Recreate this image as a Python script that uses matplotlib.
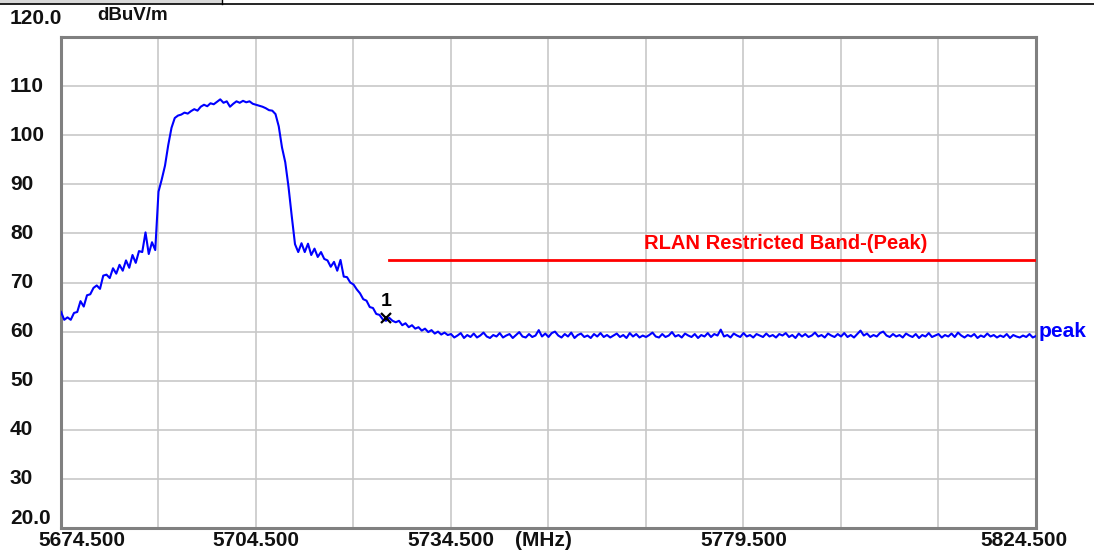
import numpy as np
import matplotlib
matplotlib.use("Agg")
import matplotlib.pyplot as plt
from matplotlib import transforms
from matplotlib.lines import Line2D
from matplotlib.patches import Rectangle

# ---------------- data ----------------
f_start = 5674.5
f_step = 0.5

level_rise = [64.0, 62.4, 62.9, 62.4, 63.8, 64.0, 66.2, 65.1, 67.4, 67.6,
              68.9, 69.4, 68.7, 71.4, 71.6, 70.9, 72.9, 71.8, 73.6, 72.4,
              74.5, 73.0, 75.6, 74.0, 76.4, 76.2, 80.2, 75.8, 78.2, 76.6]

level_band = [88.5, 91.0, 93.8, 98.0, 101.5, 103.5, 104.0, 104.2, 104.6, 104.4,
              104.9, 105.3, 105.0, 105.8, 106.2, 105.9, 106.5, 106.3, 106.8, 107.3,
              106.6, 106.9, 105.8, 106.4, 106.9, 106.6, 107.0, 106.7, 106.9, 106.4,
              106.2, 106.0, 105.8, 105.5, 105.1, 105.0, 104.3, 101.8, 97.5, 94.5,
              89.5, 83.5, 77.8, 76.2, 78.0, 76.2, 77.9, 75.6, 76.9, 75.2,
              76.2, 74.8, 74.5, 73.2, 74.2, 72.4, 74.6, 71.2, 71.1, 70.0,
              69.6, 68.6, 67.8, 66.6, 66.3, 65.0, 64.8, 63.6, 63.4, 62.5,
              62.2, 62.8, 62.2, 61.9, 62.2, 61.3, 61.7, 60.9, 61.3, 60.6,
              60.9, 60.2, 60.6, 59.9, 60.3, 59.6, 60.0, 59.4, 59.8, 59.3]

level_floor = [59.5, 58.8, 59.2, 59.7, 58.7, 59.3, 58.9, 59.6, 58.8, 59.2,
               59.8, 59.0, 58.7, 59.3, 59.0, 59.7, 58.8, 59.2, 59.5, 58.7,
               59.3, 59.9, 59.0, 58.8, 59.5, 58.9, 59.2, 60.3, 59.0, 59.6,
               58.9, 59.7, 60.0, 59.2, 58.8, 59.5, 59.0, 59.8, 58.7, 59.3,
               59.6, 58.9, 59.2, 58.7, 59.5, 59.0, 59.7, 58.9, 59.3, 58.8,
               59.2, 59.6, 58.9, 59.3, 58.7, 59.7, 59.0, 59.5, 58.8, 59.2,
               58.9, 59.3, 59.8, 59.0, 58.8, 59.5, 58.9, 59.2, 59.9, 59.0,
               59.3, 58.8, 59.6, 59.2, 58.9, 59.5, 58.7, 59.3, 59.0, 59.7,
               58.9, 59.5, 59.2, 60.4, 59.0, 59.3, 58.8, 59.6, 59.2, 58.9,
               59.7, 59.0, 59.3, 58.8, 59.5, 59.2, 58.9, 59.6, 59.0, 59.3,
               58.8, 59.5, 59.2, 59.7, 58.9, 59.3, 58.7, 59.6, 59.0, 59.5,
               58.9, 59.2, 59.8, 59.0, 59.3, 58.8, 59.6, 59.2, 58.9, 59.5,
               59.0, 59.7, 58.9, 59.3, 58.8, 59.5, 60.2, 59.2, 59.6, 58.9,
               59.3, 59.0, 59.7, 60.0, 59.2, 58.9, 59.5, 59.0, 59.3, 58.8,
               59.6, 59.2, 58.9, 59.5, 58.7, 59.3, 59.0, 59.7, 58.9, 59.2,
               59.5, 58.8, 59.3, 59.0, 59.6, 58.9, 59.8, 59.2, 58.8, 59.3,
               59.0, 59.5, 58.7, 59.2, 58.9, 59.6, 59.0, 59.3, 58.8, 59.2,
               58.9, 59.5, 58.7, 59.3, 59.0, 58.8, 59.2, 58.9, 59.5, 58.8,
               59.1]

levels = np.array(level_rise + level_band + level_floor)
freqs = f_start + f_step * np.arange(len(levels))

limit_freqs = [5725.0, 5824.5]
limit_level = 74.5
limit_label = "RLAN Restricted Band-(Peak)"

marker_freq = 5724.5
marker_level = 62.8
marker_label = "1"

x_min, x_max = 5674.5, 5824.5
y_min, y_max = 20.0, 120.0
x_grid = [5674.5, 5689.5, 5704.5, 5719.5, 5734.5, 5749.5, 5764.5, 5779.5, 5794.5, 5809.5, 5824.5]
x_labels = {5674.5: "5674.500", 5704.5: "5704.500", 5734.5: "5734.500",
            5779.5: "5779.500", 5824.5: "5824.500"}
y_grid = [20, 30, 40, 50, 60, 70, 80, 90, 100, 110, 120]
y_labels = ["20.0", "30", "40", "50", "60", "70", "80", "90", "100", "110", "120.0"]

# ---------------- figure ----------------
W, H = 1094, 555
fig = plt.figure(figsize=(W / 100, H / 100), dpi=100)
fig.patch.set_facecolor("white")
ax = fig.add_axes([61 / W, 1 - 528 / H, (1036 - 61) / W, (528 - 37) / H])

FONT = "Liberation Sans"
GRID_C = "#c8c8c8"
SPINE_C = "#808080"
TXT_C = "#111111"

ax.set_xlim(x_min, x_max)
ax.set_ylim(y_min, y_max)
ax.set_xticks(x_grid)
ax.set_yticks(y_grid)
ax.set_xticklabels([])
ax.set_yticklabels([])
ax.tick_params(length=0)
ax.grid(True, color=GRID_C, lw=1.2)
ax.set_axisbelow(True)
for s in ax.spines.values():
    s.set_color(SPINE_C)
    s.set_linewidth(2.2)

# trace
ax.plot(freqs, levels, color="#0000ff", lw=1.5, zorder=3)

# limit line
ax.plot(limit_freqs, [limit_level, limit_level], color="#ff0000", lw=2.0, zorder=3)
ax.text(5786.0, 78.0, limit_label, color="#ff0000", fontsize=14.5,
        fontweight="bold", family=FONT, ha="center", va="center")

# marker
ax.plot([marker_freq], [marker_level], marker="x", color="black", ms=7, mew=1.6,
        ls="none", zorder=4)
ax.annotate(marker_label, (marker_freq, marker_level), xytext=(0, 12),
            textcoords="offset points", ha="center", va="center",
            fontsize=14, fontweight="bold", family=FONT, color="black")

# trace label
ax.annotate("peak", (x_max, 60.0), xytext=(2, 0), textcoords="offset points",
            ha="left", va="center", fontsize=15, fontweight="bold",
            family=FONT, color="#0000ff", annotation_clip=False)

# x labels
bx = transforms.blended_transform_factory(ax.transData, fig.transFigure)
label_y = 1 - 540 / H
for fv, txt in x_labels.items():
    if fv == x_min:
        tr = bx + transforms.ScaledTranslation(-23 / 100, 0, fig.dpi_scale_trans)
        ha = "left"
    elif fv == x_max:
        tr = bx + transforms.ScaledTranslation(32 / 100, 0, fig.dpi_scale_trans)
        ha = "right"
    else:
        tr = bx
        ha = "center"
    fig.text(fv, label_y, txt, transform=tr, ha=ha, va="center",
             fontsize=15, fontweight="bold", family=FONT, color=TXT_C)
fig.text(515 / W, label_y, "(MHz)", ha="left", va="center",
         fontsize=15, fontweight="bold", family=FONT, color=TXT_C)

# y labels
by = transforms.blended_transform_factory(fig.transFigure, ax.transData)
for yv, txt in zip(y_grid, y_labels):
    if yv == y_max:
        tr = by + transforms.ScaledTranslation(0, 19 / 100, fig.dpi_scale_trans)
    elif yv == y_min:
        tr = by + transforms.ScaledTranslation(0, 9 / 100, fig.dpi_scale_trans)
    else:
        tr = by
    fig.text(10 / W, yv, txt, transform=tr, ha="left", va="center",
             fontsize=15, fontweight="bold", family=FONT, color=TXT_C)
fig.text(97 / W, 1 - 15 / H, "dBuV/m", ha="left", va="center",
         fontsize=13.5, fontweight="bold", family=FONT, color=TXT_C)

# top window decoration
fig.patches.append(Rectangle((0, 1 - 4 / H), 222 / W, 4 / H, transform=fig.transFigure,
                             facecolor="#d8d8d8", edgecolor="none"))
fig.lines.append(Line2D([0, 1], [1 - 4 / H, 1 - 4 / H], transform=fig.transFigure,
                        color="black", lw=1.2))
fig.lines.append(Line2D([222 / W, 222 / W], [1 - 4 / H, 1], transform=fig.transFigure,
                        color="black", lw=1.0))

fig.savefig("out.png", dpi=100)
